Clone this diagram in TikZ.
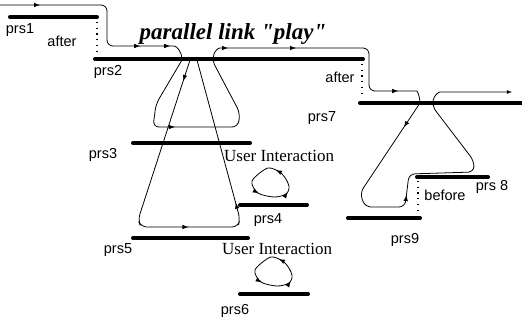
\documentclass[tikz,border=0pt]{standalone}
\usepackage{fontspec}
\setmainfont{Liberation Serif}
\setsansfont{Liberation Sans}
\newfontfamily\titlefont{Liberation Serif}
\usetikzlibrary{decorations.markings}

\begin{document}
\begin{tikzpicture}[x=1pt,y=-1pt,>=latex,
  prsbar/.style={line width=4pt,line cap=round},
  thread/.style={line width=0.8pt,rounded corners=6pt},
  arrowat/.style={postaction={decorate,decoration={markings,mark=at position #1 with {\arrow[scale=1.15]{latex}}}}},
  order/.style={line width=1.2pt,dash pattern=on 1.2pt off 4.5pt},
  lbl/.style={font=\sffamily\fontsize{14.5}{16}\selectfont,inner sep=0pt},
  ui/.style={font=\fontsize{17}{19}\selectfont,inner sep=0pt,anchor=west}
]
\useasboundingbox (0,0) rectangle (522,324);

% presentations
\coordinate (prs1-w) at (10,17);   \coordinate (prs1-e) at (97,17);
\coordinate (prs2-w) at (95,59);   \coordinate (prs2-e) at (363,59);
\coordinate (prs3-w) at (133,143); \coordinate (prs3-e) at (250,143);
\coordinate (prs4-w) at (240,205); \coordinate (prs4-e) at (307,205);
\coordinate (prs5-w) at (133,238); \coordinate (prs5-e) at (248,238);
\coordinate (prs6-w) at (240,294); \coordinate (prs6-e) at (308,294);
\coordinate (prs7-w) at (360,103); \coordinate (prs7-e) at (524,103);
\coordinate (prs8-w) at (417,177); \coordinate (prs8-e) at (488,177);
\coordinate (prs9-w) at (348,218); \coordinate (prs9-e) at (420,218);
\draw[prsbar] (prs1-w) -- (prs1-e);
\draw[prsbar] (prs2-w) -- (prs2-e);
\draw[prsbar] (prs3-w) -- (prs3-e);
\draw[prsbar] (prs4-w) -- (prs4-e);
\draw[prsbar] (prs5-w) -- (prs5-e);
\draw[prsbar] (prs6-w) -- (prs6-e);
\draw[prsbar] (prs7-w) -- (prs7-e);
\draw[prsbar] (prs8-w) -- (prs8-e);
\draw[prsbar] (prs9-w) -- (prs9-e);

% temporal order
\draw[order] (97,22) -- (97,55);
\draw[order] (362,64) -- (362,98);
\draw[order] (418,181) -- (418,215);

\node[lbl] (l-prs1) at (20,30) {prs1};
\node[lbl] (l-after1) at (62,41) {after};
\node[lbl] (l-prs2) at (108,72) {prs2};
\node[font=\titlefont\bfseries\itshape\fontsize{23}{25}\selectfont,inner sep=0pt] (title) at (233,34)
  {parallel link "play"};
\node[lbl] (l-after2) at (340,77) {after};
\node[lbl] (l-prs7) at (322,118) {prs7};
\node[lbl] (l-prs3) at (103,155) {prs3};
\node[ui] (ui1) at (224,156) {User Interaction};
\node[lbl] (l-prs4) at (268,220) {prs4};
\node[lbl] (l-prs5) at (118,250) {prs5};
\node[ui] (ui2) at (222,249) {User Interaction};
\node[lbl] (l-prs6) at (235,311) {prs6};
\node[lbl] (l-prs9) at (405,240) {prs9};
\node[lbl] (l-before) at (445,195) {before};
\node[lbl] (l-prs8) at (492,187) {prs 8};

% threads
\coordinate (fork) at (182,60);
\coordinate (join) at (420,103);
\draw[thread,arrowat=40pt,arrowat=176pt,arrowat=206pt]
  (0,5) -- (107,5) -- (107,46) -- (168,46) .. controls (177,46) and (182,52) .. (fork);
\draw[thread,arrowat=93pt,arrowat=250pt,arrowat=318pt,arrowat=458pt]
  (fork) -- (156,104) -- (153,127) -- (238,127) -- (240,113) -- (212,60)
  .. controls (215,51) and (218,48) .. (226,48) -- (369,48) -- (369,91) -- (411,91)
  .. controls (417,91) and (420,96) .. (join);
\draw[thread,arrowat=22pt,arrowat=230pt,arrowat=310pt]
  (190,60) -- (138,220) -- (141,227) -- (238,227) -- (240,219) -- (197,60);
\draw[thread,->,arrowat=29pt,arrowat=170pt]
  (join) -- (360,193) -- (365,207) -- (405,207) -- (409,174) -- (474,172) -- (474,161) -- (432,106)
  .. controls (434,96) and (438,92) .. (446,92) -- (512,92);

% user interaction loops
\draw[line width=0.8pt,arrowat=0.07,arrowat=0.5,arrowat=0.8,shift={(270,183)}]
  plot[smooth cycle] coordinates {(19,3) (12,-9) (-2,-15) (-18,-2) (-12,10) (4,14) (16,11)};
\draw[line width=0.8pt,arrowat=0.07,arrowat=0.5,arrowat=0.8,shift={(273,272)}]
  plot[smooth cycle] coordinates {(19,3) (12,-9) (-2,-15) (-18,-2) (-12,10) (4,14) (16,11)};
\end{tikzpicture}
\end{document}
